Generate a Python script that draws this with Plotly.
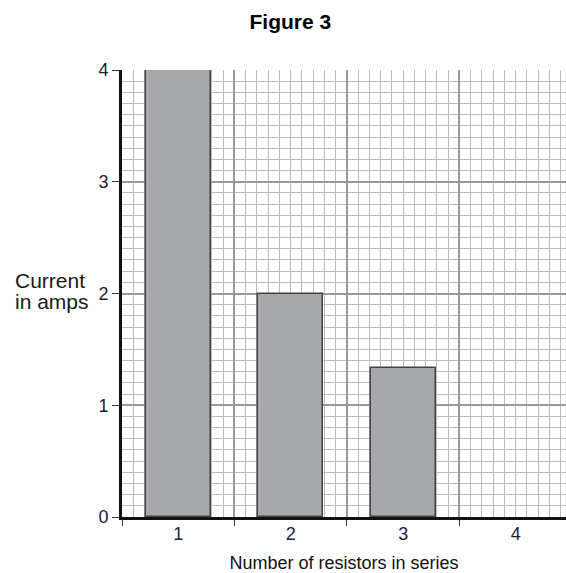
import plotly.graph_objects as go

resistors = [1, 2, 3]
current = [4, 2, 4/3]
x_tick_values = [1, 2, 3, 4]
x_tick_labels = ["1", "2", "3", "4"]
y_tick_values = [0, 1, 2, 3, 4]
boundaries = [0.5, 1.5, 2.5, 3.5, 4.5]

XR = [0.5, 4.447]

fig = go.Figure()
fig.add_trace(go.Bar(
    x=resistors, y=current, width=0.58,
    marker=dict(color="#a7a8ac", line=dict(color="#444444", width=1.5)),
    showlegend=False,
))
# invisible trace to activate second axis
fig.add_trace(go.Scatter(x=[x_tick_values[0]], y=[0], xaxis="x2", mode="markers",
                         marker=dict(opacity=0), showlegend=False, hoverinfo="skip"))

fig.update_layout(
    width=566, height=573,
    margin=dict(l=122, r=0, t=70, b=56, autoexpand=False),
    paper_bgcolor="white", plot_bgcolor="white",
    font=dict(family="Liberation Sans, Arial", color="#1a1a1a"),
    title=dict(text="<b>Figure 3</b>", x=0.513, xanchor="center", y=0.963, yanchor="middle",
               font=dict(size=21, color="black"), automargin=False),
    xaxis=dict(
        range=XR, tickmode="array", tickvals=boundaries, showticklabels=False,
        ticks="outside", ticklen=6, tickwidth=1.2, tickcolor="#333",
        showgrid=True, gridcolor="#9a9a9c", gridwidth=1.6,
        minor=dict(dtick=0.1, tick0=0.5, showgrid=True, gridcolor="#bbbbbe", gridwidth=1, ticks=""),
        showline=True, linecolor="#111", linewidth=3, zeroline=False,
        layer="below traces", automargin=False,
    ),
    xaxis2=dict(
        overlaying="x", side="bottom", range=XR, tickmode="array",
        tickvals=x_tick_values, ticktext=x_tick_labels, ticks="", showgrid=False,
        showline=False, zeroline=False, tickfont=dict(size=18, color="#1a2233"),
        ticklabelstandoff=4, automargin=False,
        title=dict(text="Number of resistors in series", font=dict(size=18, color="#111"), standoff=13),
    ),
    yaxis=dict(
        range=[0, 4], tickmode="array", tickvals=y_tick_values,
        ticks="outside", ticklen=7, tickwidth=1.2, tickcolor="#333",
        tickfont=dict(size=18, color="#1a2233"), ticklabelstandoff=0,
        showgrid=True, gridcolor="#9a9a9c", gridwidth=1.6,
        minor=dict(dtick=0.1, tick0=0, showgrid=True, gridcolor="#bbbbbe", gridwidth=1, ticks=""),
        showline=True, linecolor="#111", linewidth=3, zeroline=False,
        layer="below traces", automargin=False,
    ),
    bargap=0,
)

fig.add_annotation(text="Current", xref="paper", yref="paper",
                   x=-0.2455, y=0.530, xanchor="left", yanchor="middle",
                   showarrow=False, font=dict(size=21, color="#1a1a1a"))
fig.add_annotation(text="in amps", xref="paper", yref="paper",
                   x=-0.2455, y=0.481, xanchor="left", yanchor="middle",
                   showarrow=False, font=dict(size=21, color="#1a1a1a"))

fig.write_html(
    "out.html",
    config={"displayModeBar": False},
    post_script="document.body.style.margin='0';document.body.style.overflow='hidden';",
)
